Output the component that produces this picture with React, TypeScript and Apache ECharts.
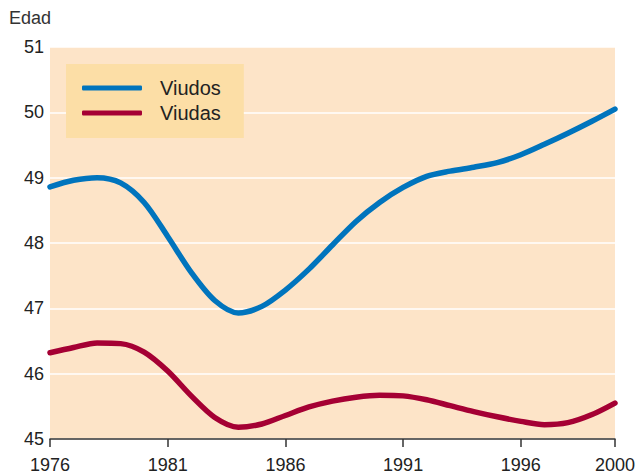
import React, { useEffect, useRef } from "react";
import * as echarts from "echarts";

const years = [
  "1976", "1977", "1978", "1979", "1980", "1981", "1982", "1983", "1984", "1985",
  "1986", "1987", "1988", "1989", "1990", "1991", "1992", "1993", "1994", "1995",
  "1996", "1997", "1998", "1999", "2000",
];
const viudos = [
  48.86, 48.96, 49.0, 48.92, 48.62, 48.1, 47.55, 47.12, 46.93, 47.03,
  47.28, 47.6, 47.97, 48.33, 48.62, 48.85, 49.02, 49.1, 49.16, 49.23,
  49.35, 49.51, 49.68, 49.86, 50.05,
];
const viudas = [
  46.32, 46.4, 46.47, 46.46, 46.33, 46.04, 45.66, 45.33, 45.18, 45.23,
  45.36, 45.49, 45.58, 45.64, 45.67, 45.66, 45.6, 45.51, 45.42, 45.34,
  45.27, 45.22, 45.25, 45.37, 45.55,
];
const seriesNames = ["Viudos", "Viudas"];
const yAxisTitle = "Edad";

const FONT = "Liberation Sans, Arial, sans-serif";

export default function App() {
  const ref = useRef<HTMLDivElement>(null);
  useEffect(() => {
    if (!ref.current) return;
    const chart = echarts.init(ref.current, null, { renderer: "svg" });
    chart.setOption({
      animation: false,
      textStyle: { fontFamily: FONT },
      grid: {
        left: 50,
        right: 22,
        top: 47,
        bottom: 36,
        show: true,
        backgroundColor: "#FDE4C8",
        borderWidth: 0,
      },
      graphic: [
        {
          type: "text",
          left: 9,
          top: 9,
          style: { text: yAxisTitle, fontSize: 18, fill: "#333", fontFamily: FONT },
        },
      ],
      legend: {
        left: 66,
        top: 64,
        orient: "vertical",
        backgroundColor: "#FCDEA6",
        padding: [14, 23, 15, 16],
        itemWidth: 60,
        itemHeight: 5,
        itemGap: 5,
        icon: "roundRect",
        textStyle: { fontSize: 20, color: "#222", fontFamily: FONT, padding: [0, 0, 0, 13] },
        data: seriesNames,
      },
      xAxis: {
        type: "category",
        data: years,
        boundaryGap: false,
        axisLine: { lineStyle: { color: "#333", width: 1.5 } },
        axisTick: {
          length: 8,
          lineStyle: { color: "#333", width: 1.5 },
          interval: (i: number) => i % 5 === 0 || i === years.length - 1,
        },
        axisLabel: {
          interval: (i: number) => i % 5 === 0 || i === years.length - 1,
          fontSize: 18,
          color: "#222",
          margin: 17,
          fontFamily: FONT,
        },
        splitLine: { show: false },
      },
      yAxis: {
        type: "value",
        min: 45,
        max: 51,
        interval: 1,
        axisLine: { show: false },
        axisTick: { show: false },
        axisLabel: { fontSize: 18, color: "#222", margin: 6, fontFamily: FONT },
        splitLine: { lineStyle: { color: "#FFFFFF", width: 1.5 } },
      },
      series: [
        {
          name: seriesNames[0],
          type: "line",
          data: viudos,
          smooth: 0.3,
          showSymbol: false,
          symbol: "none",
          lineStyle: { color: "#0074BD", width: 5.5, cap: "round" },
          itemStyle: { color: "#0074BD" },
        },
        {
          name: seriesNames[1],
          type: "line",
          data: viudas,
          smooth: 0.3,
          showSymbol: false,
          symbol: "none",
          lineStyle: { color: "#A50034", width: 5.5, cap: "round" },
          itemStyle: { color: "#A50034" },
        },
      ],
    });
    return () => chart.dispose();
  }, []);
  return <div ref={ref} style={{ width: 638, height: 475, position: "absolute", left: 0, top: 0 }} />;
}
